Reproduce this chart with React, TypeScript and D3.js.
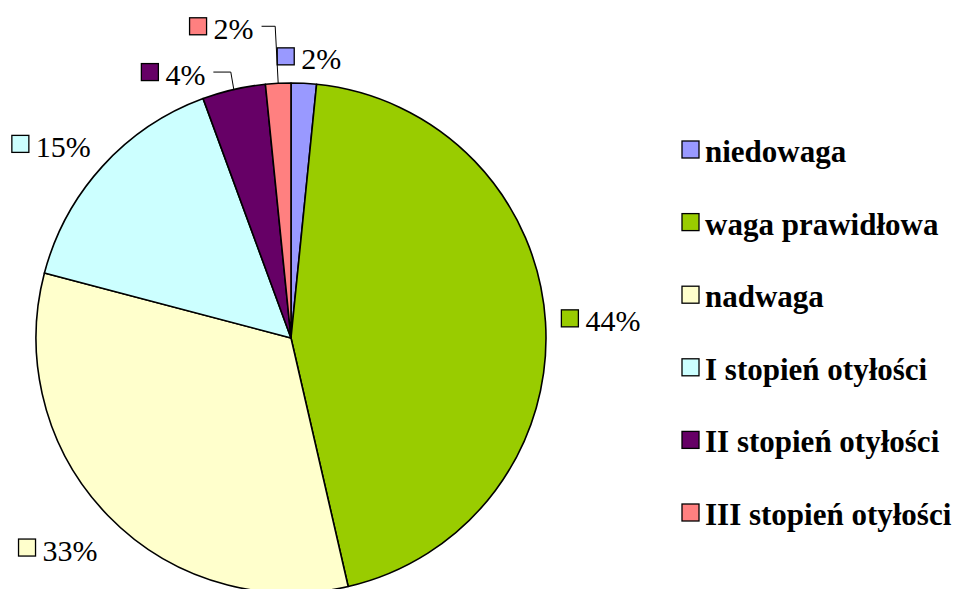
import React from 'react';
import * as d3 from 'd3';

const width = 963;
const height = 589;

const categories = [
  'niedowaga',
  'waga prawidłowa',
  'nadwaga',
  'I stopień otyłości',
  'II stopień otyłości',
  'III stopień otyłości'
];
const shares = [1.6, 44.8, 32.7, 15.3, 4.0, 1.6];
const percentLabels = ['2%', '44%', '33%', '15%', '4%', '2%'];
const colors = ['#9999FF', '#99CC00', '#FFFFCC', '#CCFFFF', '#660066', '#FF8080'];

// layout
const cx = 291;
const cy = 338;
const radius = 255;
const labelGap = 16;
const minSep = (14 * Math.PI) / 180;
const marker = 17;
const labelFont = 30;
const serif = 'Liberation Serif, DejaVu Serif, Times New Roman, serif';
const labelNudge = [
  [3, -1],
  [0, -2],
  [-10, 14],
  [-10, -5],
  [11, -11.5],
  [-11, -36]
];

const textWidth = (s: string) =>
  s.split('').reduce((w, c) => w + (c === '%' ? 0.833 : 0.5), 0) * labelFont;

const App = () => {
  const pie = d3
    .pie<number>()
    .sort(null)
    .value(d => d);
  const arcs = pie(shares);

  const arcGen = d3
    .arc<d3.PieArcDatum<number>>()
    .innerRadius(0)
    .outerRadius(radius);

  const mids = arcs.map(a => (a.startAngle + a.endAngle) / 2);

  // rozsuwanie etykiet małych wycinków (od końca, przeciwnie do wskazówek)
  const labelAngles = mids.slice();
  let prev = mids[0] + 2 * Math.PI;
  for (let i = arcs.length - 1; i > 0; i--) {
    labelAngles[i] = Math.min(mids[i], prev - minSep);
    prev = labelAngles[i];
  }

  const labels = arcs.map((a, i) => {
    const t = labelAngles[i];
    const w = marker + 7 + textWidth(percentLabels[i]);
    const h = 20;
    const ax = Math.sin(t) * (radius + labelGap);
    const ay = -Math.cos(t) * (radius + labelGap);
    const x = cx + ax + (w / 2) * Math.sin(t) + labelNudge[i][0];
    const y = cy + ay - (h / 2) * Math.cos(t) + labelNudge[i][1];
    const displaced = Math.abs(t - mids[i]) > (3 * Math.PI) / 180;
    const px = cx + Math.sin(mids[i]) * radius;
    const py = cy - Math.cos(mids[i]) * radius;
    return { x, y, w, displaced, px, py, text: percentLabels[i], color: colors[i] };
  });

  const legendX = 682;
  const legendY0 = 162;
  const legendStep = 72.6;

  return (
    <svg
      width={width}
      height={height}
      style={{ position: 'absolute', left: 0, top: 0, background: '#fff' }}
    >
      <g transform={`translate(${cx}, ${cy})`}>
        {arcs.map((a, i) => (
          <path
            key={categories[i]}
            d={arcGen(a) || ''}
            fill={colors[i]}
            stroke="#000"
            strokeWidth={1.6}
            strokeLinejoin="round"
          />
        ))}
      </g>

      {labels.map((l, i) => {
        const left = l.x - l.w / 2;
        return (
          <g key={'lab' + i}>
            {l.displaced && (
              <polyline
                points={`${left + l.w + 8},${l.y} ${l.px - 3},${l.y} ${l.px},${l.py}`}
                fill="none"
                stroke="#000"
                strokeWidth={1}
              />
            )}
            <rect
              x={left}
              y={l.y - marker / 2}
              width={marker}
              height={marker}
              fill={l.color}
              stroke="#000"
              strokeWidth={1.3}
            />
            <text x={left + marker + 7} y={l.y + 13} fontFamily={serif} fontSize={labelFont}>
              {l.text}
            </text>
          </g>
        );
      })}

      {categories.map((c, i) => {
        const base = legendY0 + i * legendStep;
        return (
          <g key={'leg' + c}>
            <rect
              x={legendX}
              y={base - 21}
              width={marker}
              height={marker}
              fill={colors[i]}
              stroke="#000"
              strokeWidth={1.3}
            />
            <text x={legendX + 23} y={base} fontFamily={serif} fontSize={31} fontWeight="bold">
              {c}
            </text>
          </g>
        );
      })}
    </svg>
  );
};

export default App;
